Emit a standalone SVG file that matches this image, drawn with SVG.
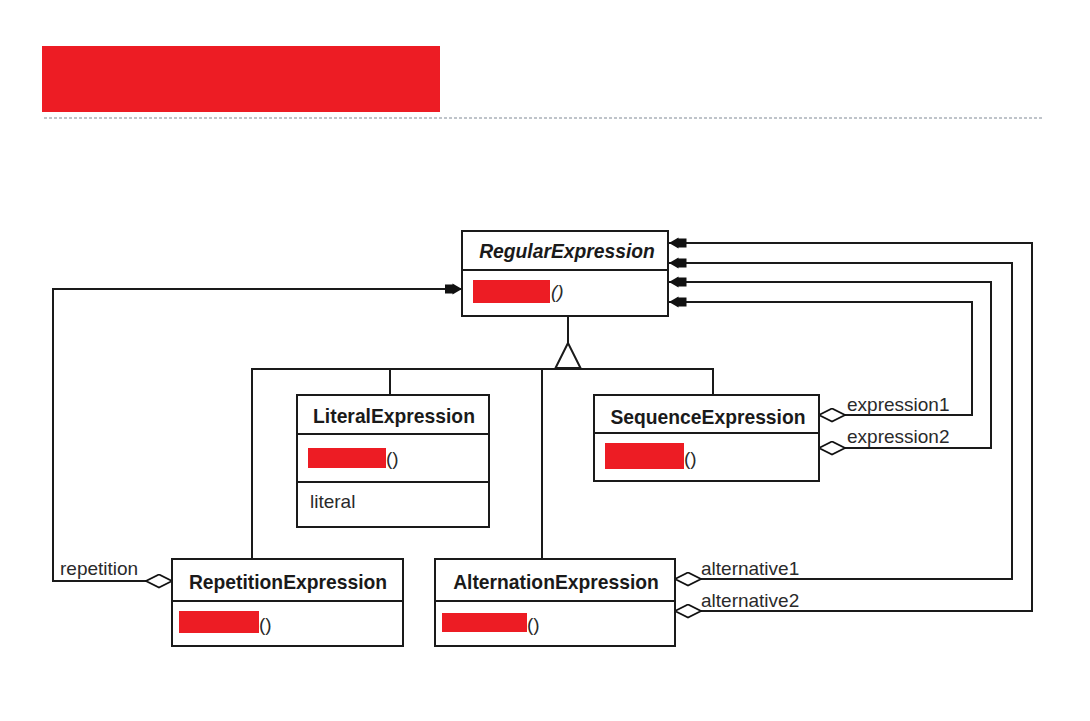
<svg xmlns="http://www.w3.org/2000/svg" width="1090" height="721" viewBox="0 0 1090 721">
<style>
.box{fill:#fff;stroke:#1a1a1a;stroke-width:2}
.div{stroke:#1a1a1a;stroke-width:2}
.title{font-family:"Liberation Sans",Arial,sans-serif;font-size:19.3px;font-weight:bold;fill:#1a1a1a;text-anchor:middle}
.txt{font-family:"Liberation Sans",Arial,sans-serif;font-size:19px;fill:#2a2a2a}
.red{fill:#ED1C24}
.conn{fill:none;stroke:#1a1a1a;stroke-width:2}
</style>
<defs>
<marker id="arrow" viewBox="0 0 18 12" refX="17.5" refY="6" markerWidth="18" markerHeight="12" markerUnits="userSpaceOnUse" orient="auto">
<path d="M17.5,6 L8,0.5 L8,1.5 L0,1.5 L0,10.5 L8,10.5 L8,11.5 Z" fill="#111"/>
</marker>
<marker id="diamond" viewBox="-1 -1 28 15" refX="0" refY="6.5" markerWidth="28" markerHeight="15" markerUnits="userSpaceOnUse" orient="auto">
<path d="M0,6.5 L13,0 L26,6.5 L13,13 Z" fill="#fff" stroke="#111" stroke-width="1.8"/>
</marker>
</defs>
<rect width="1090" height="721" fill="#fff"/>
<g id="header">
<rect class="red" x="42" y="46" width="398" height="66"/>
<line x1="44" y1="118" x2="1044" y2="118" stroke="#aab1b9" stroke-width="1.5" stroke-dasharray="3,2"/>
</g>
<g id="connectors">
<line class="conn" x1="568" y1="316" x2="568" y2="343"/>
<path class="conn" d="M252,559 V369 H713 V395 M390,369 V395 M542,369 V559"/>
<polygon points="568,343 555.5,368 580.5,368" fill="#fff" stroke="#1a1a1a" stroke-width="2"/>
<path class="conn" d="M819,415 H972 V302 H669" marker-start="url(#diamond)" marker-end="url(#arrow)"/>
<path class="conn" d="M819,448 H991 V282 H669" marker-start="url(#diamond)" marker-end="url(#arrow)"/>
<path class="conn" d="M675,579 H1012 V263 H669" marker-start="url(#diamond)" marker-end="url(#arrow)"/>
<path class="conn" d="M675,611 H1032 V243 H669" marker-start="url(#diamond)" marker-end="url(#arrow)"/>
<path class="conn" d="M172,581 H53 V289 H462" marker-start="url(#diamond)" marker-end="url(#arrow)"/>
<text class="txt" x="847" y="411">expression1</text>
<text class="txt" x="847" y="443">expression2</text>
<text class="txt" x="701" y="575">alternative1</text>
<text class="txt" x="701" y="607">alternative2</text>
<text class="txt" x="60" y="575">repetition</text>
</g>
<g id="RegularExpression">
<rect class="box" x="462" y="231" width="206" height="85"/>
<line class="div" x1="462" y1="270" x2="668" y2="270"/>
<text class="title" x="567" y="258" font-style="italic">RegularExpression</text>
<rect class="red" x="473" y="280" width="77" height="23"/>
<text class="txt" x="551" y="298" font-style="italic">()</text>
</g>
<g id="LiteralExpression">
<rect class="box" x="297" y="395" width="192" height="132"/>
<line class="div" x1="297" y1="434" x2="489" y2="434"/>
<line class="div" x1="297" y1="482" x2="489" y2="482"/>
<text class="title" x="394" y="423">LiteralExpression</text>
<rect class="red" x="308" y="448" width="78" height="20"/>
<text class="txt" x="386" y="465">()</text>
<text class="txt" x="310" y="508">literal</text>
</g>
<g id="SequenceExpression">
<rect class="box" x="594" y="395" width="225" height="86"/>
<line class="div" x1="594" y1="433" x2="819" y2="433"/>
<text class="title" x="708" y="424">SequenceExpression</text>
<rect class="red" x="605" y="443" width="79" height="26"/>
<text class="txt" x="684" y="465">()</text>
</g>
<g id="RepetitionExpression">
<rect class="box" x="172" y="559" width="231" height="87"/>
<line class="div" x1="172" y1="601" x2="403" y2="601"/>
<text class="title" x="288" y="589">RepetitionExpression</text>
<rect class="red" x="179" y="611" width="80" height="22"/>
<text class="txt" x="259" y="631">()</text>
</g>
<g id="AlternationExpression">
<rect class="box" x="435" y="559" width="240" height="87"/>
<line class="div" x1="435" y1="601" x2="675" y2="601"/>
<text class="title" x="556" y="589">AlternationExpression</text>
<rect class="red" x="442" y="613" width="85" height="19"/>
<text class="txt" x="527" y="631">()</text>
</g>
</svg>
